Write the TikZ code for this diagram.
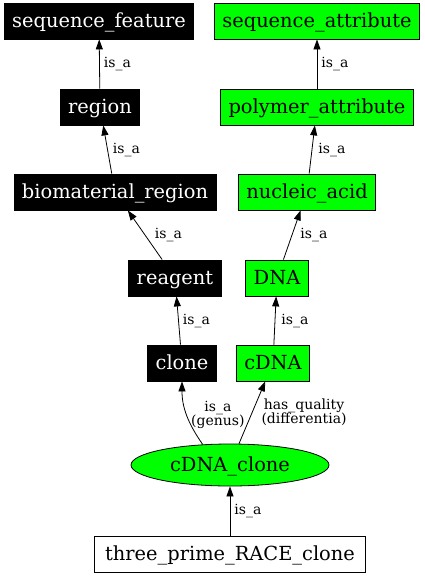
\documentclass[tikz,border=0pt]{standalone}
\usepackage{fontspec}
\setmainfont{DejaVu Serif}
\usetikzlibrary{shapes.geometric,arrows.meta}
\definecolor{termgreen}{RGB}{0,255,0}
\begin{document}
\begin{tikzpicture}[x=1pt,y=-1pt,
  term/.style={draw=black, line width=0.8pt, minimum height=36pt, inner xsep=8pt, inner ysep=0pt,
    text height=15pt, text depth=3pt, font=\fontsize{19.4}{20}\selectfont},
  featbox/.style={term, fill=black, text=white},
  attrbox/.style={term, fill=termgreen},
  plainbox/.style={term, fill=white},
  classell/.style={term, ellipse, fill=termgreen, minimum width=198pt, minimum height=42pt, inner sep=0pt},
  isa/.style={-{Triangle[length=10pt,width=7pt]}, line width=0.8pt},
  lab/.style={midway, right, inner sep=4pt, align=center, font=\fontsize{14}{14}\selectfont}]
\useasboundingbox (0,0) rectangle (425,576);
\node[featbox] (seqfeat) at (99,21) {sequence\_feature};
\node[attrbox] (seqattr) at (317,21) {sequence\_attribute};
\node[featbox] (region) at (100,107) {region};
\node[attrbox] (polyattr) at (317,107) {polymer\_attribute};
\node[featbox] (biomat) at (115,192) {biomaterial\_region};
\node[attrbox] (nucacid) at (307,192) {nucleic\_acid};
\node[featbox] (reagent) at (175,278) {reagent};
\node[attrbox] (dna) at (277,278) {DNA};
\node[featbox] (clone) at (182,363) {clone};
\node[attrbox] (cdna) at (273,363) {cDNA};
\node[classell] (cdnaclone) at (230,465) {cDNA\_clone};
\node[plainbox, minimum width=271pt] (race) at (230,554) {three\_prime\_RACE\_clone};
\draw[isa] (region) -- node[lab] {is\_a} (seqfeat);
\draw[isa] (polyattr) -- node[lab] {is\_a} (seqattr);
\draw[isa] (biomat) -- node[lab, xshift=1pt] {is\_a} (region);
\draw[isa] (nucacid) -- node[lab, xshift=2pt] {is\_a} (polyattr);
\draw[isa] (reagent) -- node[lab, xshift=5.5pt] {is\_a} (biomat);
\draw[isa] (dna) -- node[lab, xshift=4pt] {is\_a} (nucacid);
\draw[isa] (clone) -- node[lab] {is\_a} (reagent);
\draw[isa] (cdna) -- node[lab, xshift=2pt] {is\_a} (dna);
\draw[isa] (cdnaclone.143) to[out=125, in=-90] node[lab] {is\_a\\(genus)} (clone);
\draw[isa] (cdnaclone) -- node[lab, xshift=5pt] {has\_quality\\(differentia)} (cdna);
\draw[isa] (race) -- node[lab] {is\_a} (cdnaclone);
\end{tikzpicture}
\end{document}
